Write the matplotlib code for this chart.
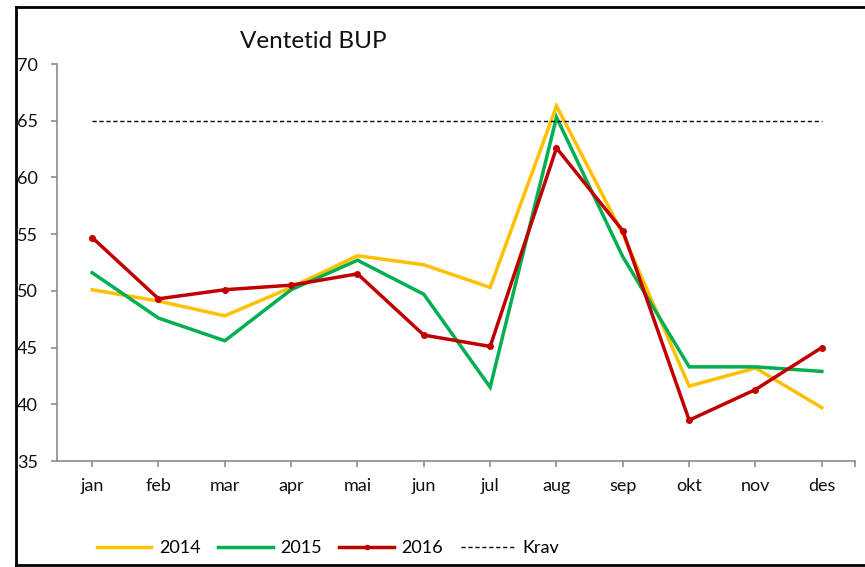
import matplotlib
matplotlib.use("Agg")
import matplotlib.pyplot as plt
from matplotlib.lines import Line2D

plt.rcParams['font.family'] = ['Lato', 'DejaVu Sans']

months = ["jan", "feb", "mar", "apr", "mai", "jun", "jul", "aug", "sep", "okt", "nov", "des"]
v2014 = [50.1, 49.1, 47.8, 50.3, 53.1, 52.3, 50.3, 66.3, 55.0, 41.6, 43.2, 39.7]
v2015 = [51.6, 47.6, 45.6, 50.1, 52.7, 49.7, 41.5, 65.3, 53.0, 43.3, 43.3, 42.9]
v2016 = [54.7, 49.3, 50.1, 50.5, 51.5, 46.1, 45.1, 62.6, 55.3, 38.6, 41.3, 45.0]
krav = [65] * 12
yticks = [35, 40, 45, 50, 55, 60, 65, 70]

W, H = 865, 567
fig = plt.figure(figsize=(W / 100, H / 100), dpi=100)
ax = fig.add_axes([57 / W, (H - 461) / H, (855 - 57) / W, (461 - 64) / H])

x = list(range(len(months)))
ax.plot(x, v2014, color="#FFC000", lw=2.5, solid_joinstyle="miter", label="2014")
ax.plot(x, v2015, color="#00B050", lw=2.5, solid_joinstyle="miter", label="2015")
ax.plot(x, v2016, color="#C00000", lw=2.5, marker="o", ms=4, solid_joinstyle="miter", label="2016")
ax.plot(x, krav, color="black", lw=1.0, ls=(0, (3, 2)), label="Krav")

ax.set_xlim(-0.53, 11.5)
ax.set_ylim(35, 70)
ax.set_yticks(yticks)
ax.set_yticklabels([str(t) for t in yticks])
ax.set_xticks(x)
ax.set_xticklabels(months)
ax.set_xticks([11.5], minor=True)

gray = "#8C8C8C"
for s in ["top", "right"]:
    ax.spines[s].set_visible(False)
for s in ["left", "bottom"]:
    ax.spines[s].set_color(gray)
    ax.spines[s].set_linewidth(1.2)
ax.tick_params(axis="both", which="both", color=gray, width=1.2, length=4, labelsize=13, labelcolor="#111111")
ax.tick_params(axis="x", pad=8)
ax.tick_params(axis="y", pad=25)
for lab in ax.get_yticklabels():
    lab.set_ha("left")

fig.text(313 / W, 1 - 42 / H, "Ventetid BUP", ha="center", va="center", fontsize=17.5, color="#111111")

# border of chart area
fig.add_artist(Line2D([16 / W, 16 / W], [1 - 7 / H, 1 - 565 / H], transform=fig.transFigure, color="black", lw=2))
fig.add_artist(Line2D([16 / W, 1.0], [1 - 7 / H, 1 - 7 / H], transform=fig.transFigure, color="black", lw=2))
fig.add_artist(Line2D([16 / W, 1.0], [1 - 565 / H, 1 - 565 / H], transform=fig.transFigure, color="black", lw=2))

handles = [
    Line2D([], [], color="#FFC000", lw=2.5),
    Line2D([], [], color="#00B050", lw=2.5),
    Line2D([], [], color="#C00000", lw=2.5, marker="o", ms=3),
    Line2D([], [], color="black", lw=1.0, ls=(0, (3, 2))),
]
leg = fig.legend(handles, ["2014", "2015", "2016", "Krav"], loc="center", bbox_to_anchor=(328 / W, 1 - 548 / H),
                 ncol=4, frameon=False, fontsize=13, handlelength=3.0, columnspacing=1.0, handletextpad=0.4,
                 numpoints=1)

fig.savefig("out.png", dpi=100)
